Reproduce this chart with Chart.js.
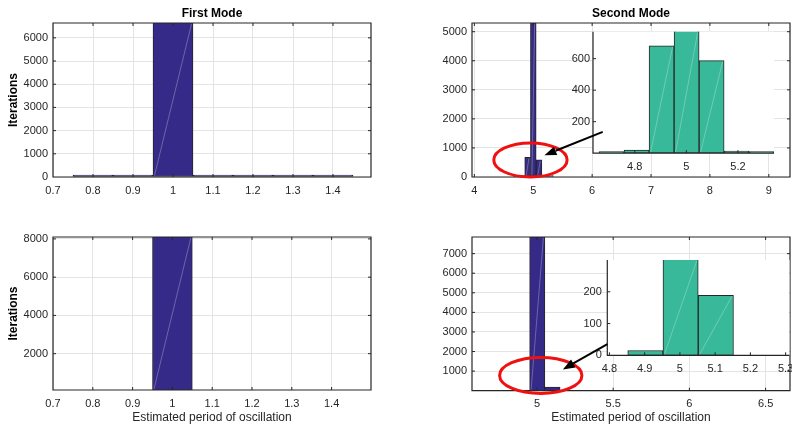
<!DOCTYPE html>
<html>
<head>
<meta charset="utf-8">
<style>
  html, body { margin: 0; padding: 0; background: #fff; overflow: hidden; width: 792px; height: 428px; position: relative; }
  canvas { position: absolute; }
</style>
<script src="https://cdn.jsdelivr.net/npm/chart.js@4/dist/chart.umd.min.js"></script>
</head>
<body>
<canvas id="tl" width="396" height="200" style="left:0;top:0"></canvas>
<canvas id="tr" width="396" height="200" style="left:396px;top:0"></canvas>
<canvas id="trZoom" width="396" height="200" style="left:396px;top:0"></canvas>
<canvas id="bl" width="396" height="214" style="left:0;top:214px"></canvas>
<canvas id="br" width="410" height="214" style="left:396px;top:214px"></canvas>
<canvas id="brZoom" width="410" height="214" style="left:396px;top:214px"></canvas>
<script>
// ---- histogram bins (bin centres) and counts ----
const periodBinsMode1 = [0.8, 0.9, 1.0, 1.1, 1.2, 1.3, 1.4];
const countsMode1Top = [0, 0, 8200, 0, 0, 0, 0];
const countsMode1Bottom = [0, 0, 8200, 0, 0, 0, 0];

const periodBinsMode2Top = [4.710, 4.807, 4.904, 5.001, 5.098, 5.195, 5.292];
const countsMode2Top = [5, 20, 681, 6888, 587, 14, 5];

const periodBinsMode2Bottom = [4.902, 5.002, 5.102, 5.202, 5.302];
const countsMode2Bottom = [15, 7996, 189, 0, 0];

// ---- tick values ----
const xTicksMode1 = [0.7, 0.8, 0.9, 1, 1.1, 1.2, 1.3, 1.4];
const yTicksTopLeft = [0, 1000, 2000, 3000, 4000, 5000, 6000];
const yTicksBottomLeft = [2000, 4000, 6000, 8000];
const xTicksTopRight = [4, 5, 6, 7, 8, 9];
const yTicksTopRight = [0, 1000, 2000, 3000, 4000, 5000];
const xTicksZoomTop = [4.8, 5, 5.2];
const yTicksZoomTop = [200, 400, 600];
const xTicksBottomRight = [5, 5.5, 6, 6.5];
const yTicksBottomRight = [1000, 2000, 3000, 4000, 5000, 6000, 7000];
const xTicksZoomBottom = [4.8, 4.9, 5, 5.1, 5.2, 5.3];
const yTicksZoomBottom = [0, 100, 200];

// ---- callouts (data units of the main axes) ----
const calloutTop = { ellipse: { x0: 4.33, x1: 5.575, y0: 0, y1: 1172 }, arrow: { from: [6.18, 1552], to: [5.19, 748] } };
const calloutBottom = { ellipse: { x0: 4.755, x1: 5.295, y0: -138, y1: 1699 }, arrow: { from: [5.462, 2378], to: [5.17, 1087] } };

const BAR_MAIN = '#352a87';
const BAR_ZOOM = '#38b99a';
const EDGE = '#262626';
const TEXT = '#262626';

Chart.defaults.font.family = '"Liberation Sans", Arial, Helvetica, sans-serif';

function axis({ min, max, ticks, size, isX, grid = true, pad = 5, title = null }) {
  return {
    type: 'linear', min, max, bounds: 'data', offset: false,
    grid: { display: grid, color: '#e4e4e4', lineWidth: 1, drawTicks: false, offset: false },
    border: { display: false },
    ticks: {
      padding: pad, color: TEXT, font: { size: 11 }, maxRotation: 0, autoSkip: false,
      callback: v => String(Math.round(v * 1000) / 1000)
    },
    afterBuildTicks: s => { s.ticks = ticks.map(v => ({ value: v })); },
    afterFit: s => { if (isX) s.height = size; else s.width = size; },
    title: title || { display: false }
  };
}

function histDataset(centers, counts, color, minLen) {
  return {
    data: centers.map((c, i) => ({ x: c, y: counts[i] })),
    backgroundColor: color, borderColor: EDGE, borderWidth: 1, borderSkipped: false,
    categoryPercentage: 1, barPercentage: 1, minBarLength: minLen, clip: 0
  };
}

// faint diagonal streak across each bar
const streakPlugin = {
  id: 'streak',
  afterDatasetsDraw(chart) {
    const { ctx, chartArea: a } = chart;
    ctx.save();
    ctx.beginPath(); ctx.rect(a.left, a.top, a.right - a.left, a.bottom - a.top); ctx.clip();
    ctx.strokeStyle = 'rgba(255,255,255,0.35)'; ctx.lineWidth = 0.8;
    chart.getDatasetMeta(0).data.forEach(el => {
      const { x, y, base, width } = el.getProps(['x', 'y', 'base', 'width'], true);
      const top = Math.max(Math.min(y, base), a.top), bot = Math.min(Math.max(y, base), a.bottom);
      if (bot - top < 6) return;
      ctx.beginPath();
      ctx.moveTo(x - width / 2 + 1.5, bot - 1);
      ctx.lineTo(x + width / 2 - 1.5, top + 1);
      ctx.stroke();
    });
    ctx.restore();
  }
};

// box around the axes with inward tick marks
const framePlugin = {
  id: 'frame',
  afterDatasetsDraw(chart, args, opts) {
    const { ctx, chartArea: a, scales } = chart;
    const tl = 3;
    ctx.save();
    ctx.strokeStyle = EDGE; ctx.lineWidth = 1.2;
    ctx.beginPath();
    if (opts.full) {
      ctx.rect(a.left, a.top, a.right - a.left, a.bottom - a.top);
    } else {
      ctx.moveTo(a.left, a.top); ctx.lineTo(a.left, a.bottom); ctx.lineTo(a.right, a.bottom);
    }
    ctx.stroke();
    ctx.lineWidth = 1;
    ctx.beginPath();
    scales.x.ticks.forEach(t => {
      const px = scales.x.getPixelForValue(t.value);
      if (px < a.left + 1 || px > a.right - 1) return;
      ctx.moveTo(px, a.bottom); ctx.lineTo(px, a.bottom - tl);
      if (opts.full) { ctx.moveTo(px, a.top); ctx.lineTo(px, a.top + tl); }
    });
    scales.y.ticks.forEach(t => {
      const py = scales.y.getPixelForValue(t.value);
      if (py < a.top + 1 || py > a.bottom - 1) return;
      ctx.moveTo(a.left, py); ctx.lineTo(a.left + tl, py);
      if (opts.full) { ctx.moveTo(a.right, py); ctx.lineTo(a.right - tl, py); }
    });
    ctx.stroke();
    ctx.restore();
  }
};

// white face for the zoomed axes
const faceplatePlugin = {
  id: 'faceplate',
  beforeDraw(chart, args, opts) {
    if (!opts.on) return;
    const { ctx, chartArea: a } = chart;
    ctx.save(); ctx.fillStyle = '#fff';
    ctx.fillRect(a.left, a.top, a.right - a.left, a.bottom - a.top);
    ctx.restore();
  }
};

function calloutPlugin(mainChart, spec) {
  return {
    id: 'callout',
    afterDraw(chart) {
      const { ctx } = chart;
      const sx = mainChart.scales.x, sy = mainChart.scales.y;
      const e = spec.ellipse;
      const x0 = sx.getPixelForValue(e.x0), x1 = sx.getPixelForValue(e.x1);
      const y0 = sy.getPixelForValue(e.y0), y1 = sy.getPixelForValue(e.y1);
      ctx.save();
      ctx.strokeStyle = '#f01010'; ctx.lineWidth = 3;
      ctx.beginPath();
      ctx.ellipse((x0 + x1) / 2, (y0 + y1) / 2, Math.abs(x1 - x0) / 2, Math.abs(y1 - y0) / 2, 0, 0, Math.PI * 2);
      ctx.stroke();
      const fx = sx.getPixelForValue(spec.arrow.from[0]), fy = sy.getPixelForValue(spec.arrow.from[1]);
      const tx = sx.getPixelForValue(spec.arrow.to[0]), ty = sy.getPixelForValue(spec.arrow.to[1]);
      const ang = Math.atan2(ty - fy, tx - fx), hl = 12, hw = 4.5;
      const bx = tx - Math.cos(ang) * hl, by = ty - Math.sin(ang) * hl;
      ctx.strokeStyle = '#000'; ctx.fillStyle = '#000'; ctx.lineWidth = 2;
      ctx.beginPath(); ctx.moveTo(fx, fy); ctx.lineTo(bx, by); ctx.stroke();
      ctx.beginPath();
      ctx.moveTo(tx, ty);
      ctx.lineTo(bx + Math.sin(ang) * hw, by - Math.cos(ang) * hw);
      ctx.lineTo(bx - Math.sin(ang) * hw, by + Math.cos(ang) * hw);
      ctx.closePath(); ctx.fill();
      ctx.restore();
    }
  };
}

function baseOptions(padding, extraPlugins) {
  return Object.assign({
    responsive: false, animation: false, events: [],
    layout: { padding },
    plugins: Object.assign({ legend: { display: false }, tooltip: { enabled: false }, title: { display: false } }, extraPlugins)
  });
}

const yTitle = { display: true, text: 'Iterations', color: '#000', font: { size: 12, weight: 'bold' }, padding: { top: 6, bottom: 0 } };
const xTitle = { display: true, text: 'Estimated period of oscillation', color: TEXT, font: { size: 12 }, padding: { top: 0, bottom: 2.8 } };
const plotTitle = text => ({ display: true, text, fullSize: false, color: '#000', font: { size: 12, weight: 'bold' }, padding: { top: 6.8, bottom: 1.8 } });

// ---- First mode, top ----
const tlOpts = baseOptions({ left: 0, top: 0, right: 25, bottom: 0 }, { title: plotTitle('First Mode'), frame: { full: true } });
tlOpts.scales = {
  x: axis({ min: 0.7, max: 1.495, ticks: xTicksMode1, size: 23, isX: true, pad: 7 }),
  y: axis({ min: 0, max: 6640, ticks: yTicksTopLeft, size: 53, isX: false, pad: 5, title: yTitle })
};
new Chart(document.getElementById('tl'), {
  type: 'bar',
  data: { datasets: [histDataset(periodBinsMode1, countsMode1Top, BAR_MAIN, 2)] },
  options: tlOpts, plugins: [streakPlugin, framePlugin]
});

// ---- First mode, bottom ----
const blOpts = baseOptions({ left: 0, top: 23, right: 25, bottom: 0 }, { frame: { full: true } });
blOpts.scales = {
  x: axis({ min: 0.7, max: 1.499, ticks: xTicksMode1, size: 38, isX: true, pad: 7, title: xTitle }),
  y: axis({ min: 100, max: 8100, ticks: yTicksBottomLeft, size: 53, isX: false, pad: 5, title: yTitle })
};
new Chart(document.getElementById('bl'), {
  type: 'bar',
  data: { datasets: [histDataset(periodBinsMode1, countsMode1Bottom, BAR_MAIN, 0)] },
  options: blOpts, plugins: [streakPlugin, framePlugin]
});

// ---- Second mode, top ----
const trOpts = baseOptions({ left: 0, top: 0, right: 2, bottom: 0 }, { title: plotTitle('Second Mode'), frame: { full: true } });
trOpts.scales = {
  x: axis({ min: 3.96, max: 9.36, ticks: xTicksTopRight, size: 23, isX: true, pad: 7 }),
  y: axis({ min: 0, max: 5300, ticks: yTicksTopRight, size: 76, isX: false, pad: 5 })
};
const trChart = new Chart(document.getElementById('tr'), {
  type: 'bar',
  data: { datasets: [histDataset(periodBinsMode2Top, countsMode2Top, BAR_MAIN, 1.5)] },
  options: trOpts, plugins: [streakPlugin, framePlugin]
});

const trZoomOpts = baseOptions({ left: 167, top: 31.7, right: 18, bottom: 26.8 }, { frame: { full: false }, faceplate: { on: true } });
trZoomOpts.scales = {
  x: axis({ min: 4.638, max: 5.34, ticks: xTicksZoomTop, size: 20, isX: true, pad: 7, grid: false }),
  y: axis({ min: 0, max: 771, ticks: yTicksZoomTop, size: 30, isX: false, pad: 3, grid: false })
};
new Chart(document.getElementById('trZoom'), {
  type: 'bar',
  data: { datasets: [histDataset(periodBinsMode2Top, countsMode2Top, BAR_ZOOM, 1.5)] },
  options: trZoomOpts, plugins: [faceplatePlugin, streakPlugin, framePlugin, calloutPlugin(trChart, calloutTop)]
});

// ---- Second mode, bottom ----
const brOpts = baseOptions({ left: 0, top: 23, right: 16, bottom: 0 }, { frame: { full: true } });
brOpts.scales = {
  x: axis({ min: 4.574, max: 6.66, ticks: xTicksBottomRight, size: 37.3, isX: true, pad: 7, title: xTitle }),
  y: axis({ min: 0, max: 7850, ticks: yTicksBottomRight, size: 76, isX: false, pad: 5 })
};
const brChart = new Chart(document.getElementById('br'), {
  type: 'bar',
  data: { datasets: [histDataset(periodBinsMode2Bottom, countsMode2Bottom, BAR_MAIN, 0)] },
  options: brOpts, plugins: [streakPlugin, framePlugin]
});

const brZoomOpts = baseOptions({ left: 181.3, top: 46, right: 16.5, bottom: 52.7 }, { frame: { full: false }, faceplate: { on: true } });
brZoomOpts.scales = {
  x: axis({ min: 4.794, max: 5.311, ticks: xTicksZoomBottom, size: 20, isX: true, pad: 7, grid: false }),
  y: axis({ min: 0, max: 300, ticks: yTicksZoomBottom, size: 30, isX: false, pad: 5.5, grid: false })
};
new Chart(document.getElementById('brZoom'), {
  type: 'bar',
  data: { datasets: [histDataset(periodBinsMode2Bottom, countsMode2Bottom, BAR_ZOOM, 0)] },
  options: brZoomOpts, plugins: [faceplatePlugin, streakPlugin, framePlugin, calloutPlugin(brChart, calloutBottom)]
});
</script>
</body>
</html>
